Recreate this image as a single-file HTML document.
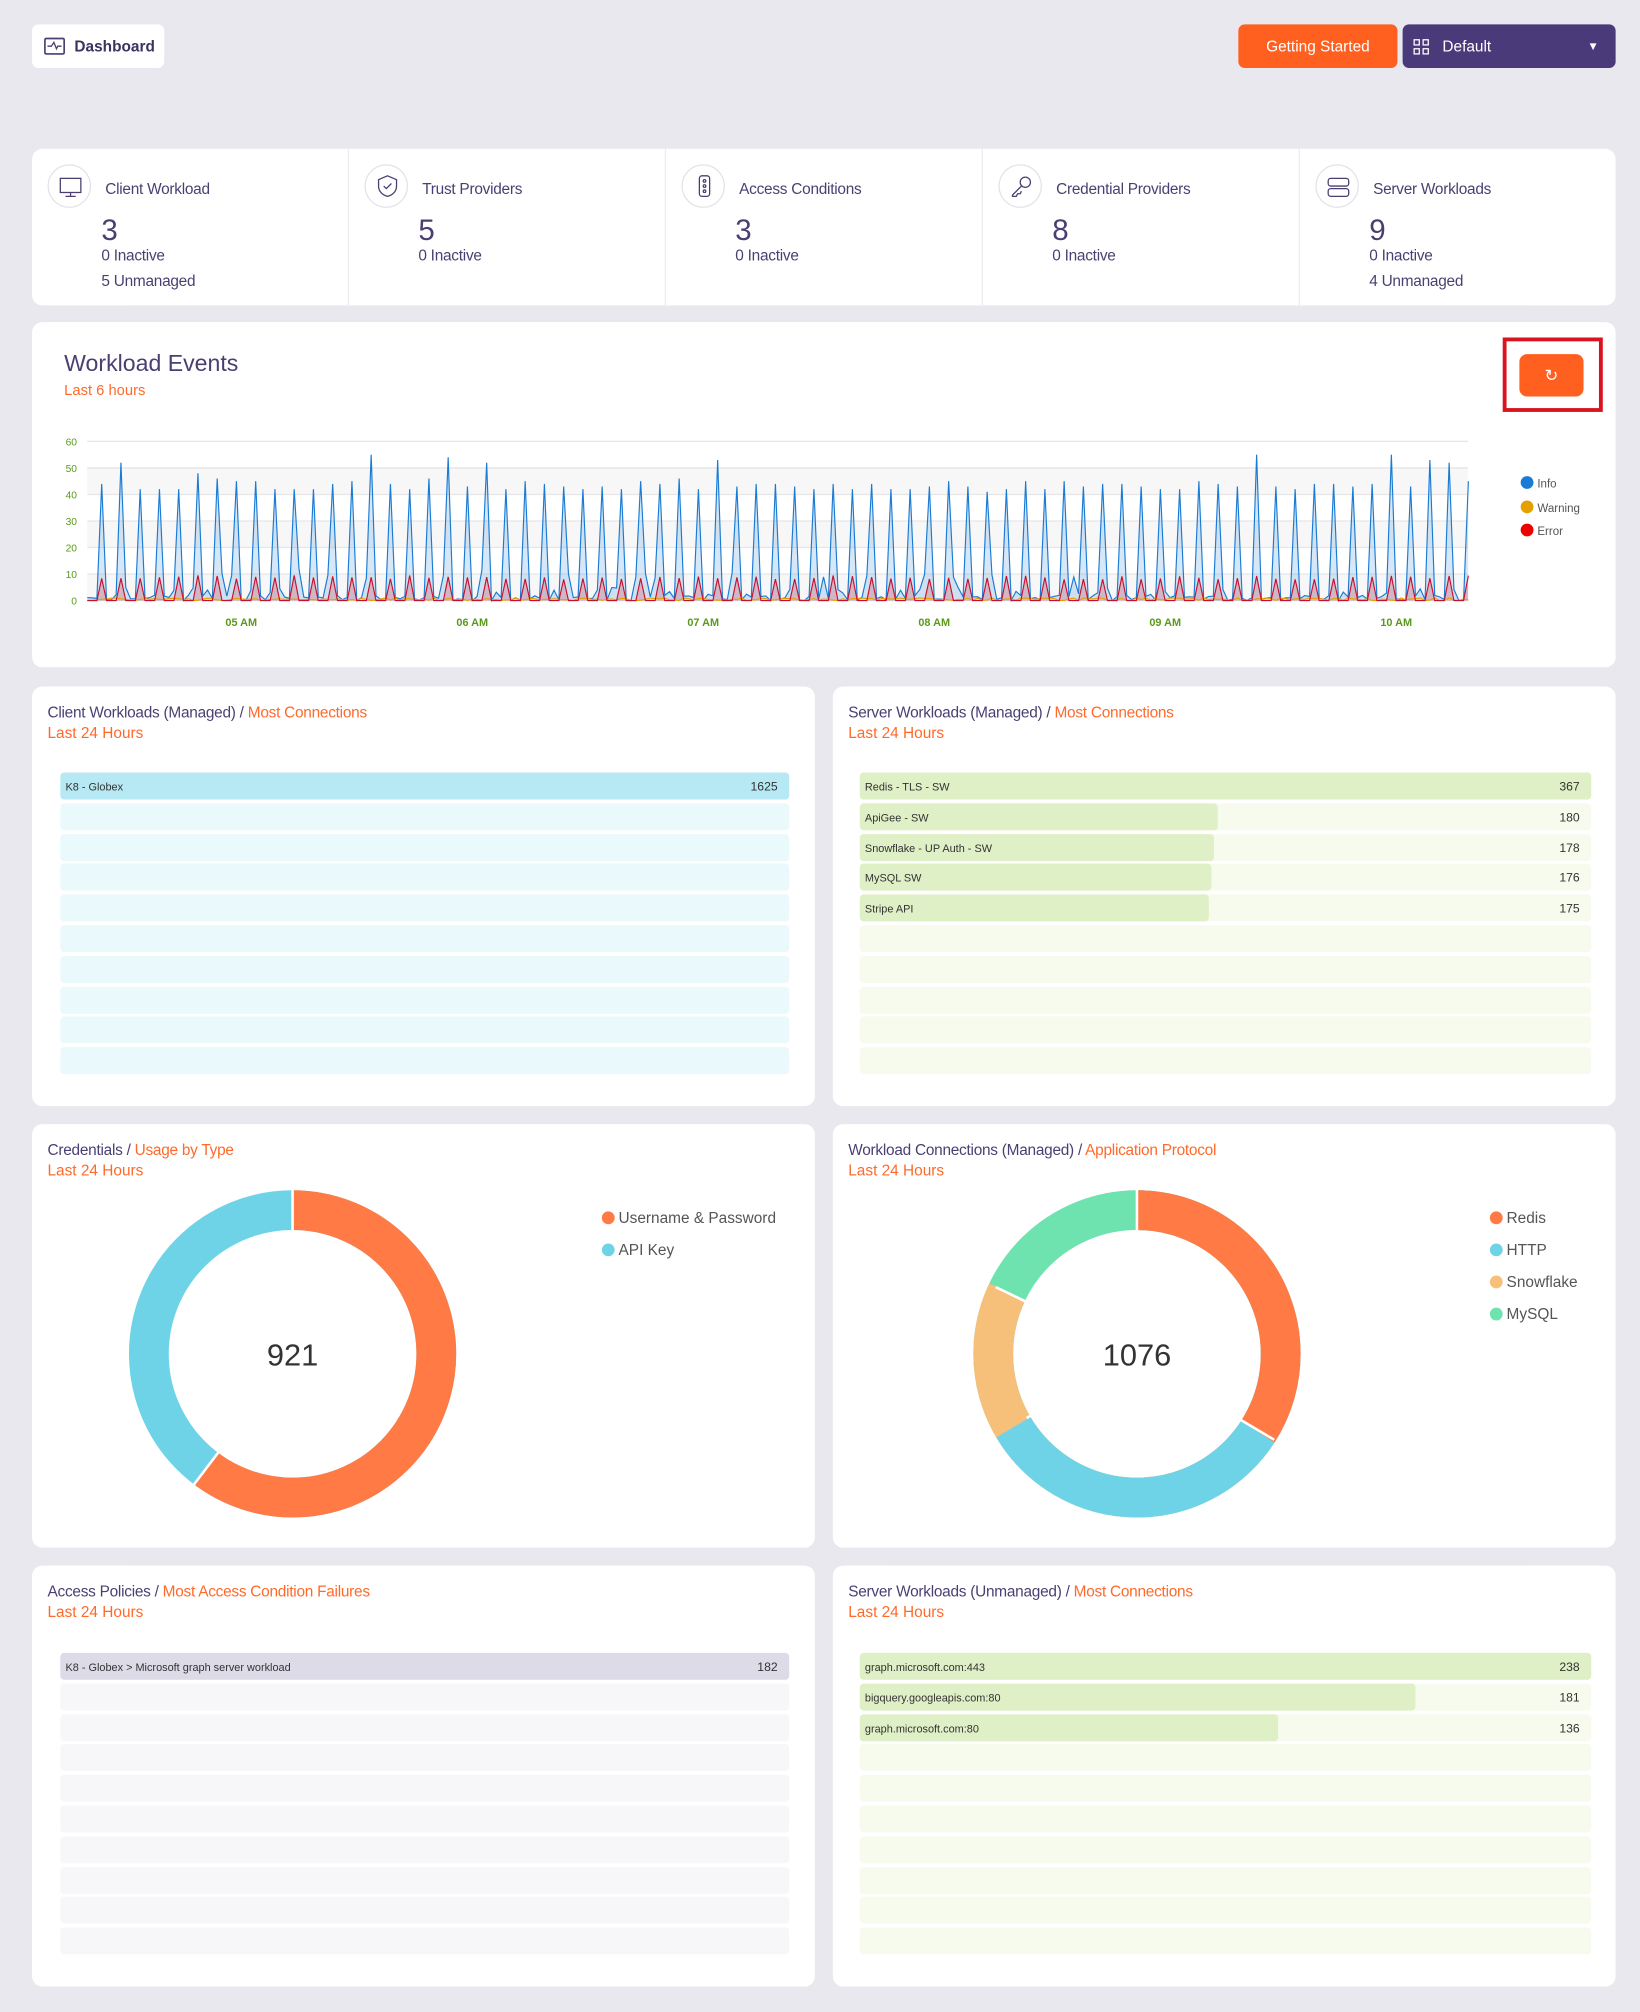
<!DOCTYPE html>
<html><head><meta charset="utf-8">
<style>
*{box-sizing:border-box;margin:0;padding:0}
html,body{width:1640px;height:2012px;overflow:hidden;background:#e9e8ee;font-family:"Liberation Sans",sans-serif}
#w{position:absolute;left:0;top:0;width:1278px;height:1568px;transform:scale(1.28326);transform-origin:0 0}
.a{position:absolute}
.card{position:absolute;background:#fff;border-radius:8px}
.pt{color:#4b3f72;font-size:12px;letter-spacing:-0.2px}
.or{color:#ff6a2b}
.st{position:absolute;top:0;height:122px;width:247px;border-right:1px solid #ececf0}
.ic{position:absolute;left:12px;top:12px;width:34px;height:34px;border:1.5px solid #e3e3e8;border-radius:50%}
.st .t{position:absolute;left:57px;top:24px;font-size:12px;color:#4b3f72;letter-spacing:-0.2px}
.st .n{position:absolute;left:54px;top:50px;font-size:23px;color:#4b3f72}
.st .s{position:absolute;left:54px;font-size:12px;color:#4b3f72;letter-spacing:-0.2px}
.row{position:absolute;height:21px;border-radius:3px;font-size:8.5px;color:#333}
.row span{position:absolute;top:6px}
.leg{position:absolute;font-size:12px;color:#555}
.leg i{display:inline-block;width:10px;height:10px;border-radius:50%;margin-right:3px;vertical-align:-1px}
</style></head><body><div id="w">
<div class="card" style="left:25px;top:19px;width:103px;height:34px;border-radius:5px"><svg class="a" style="left:9px;top:10px" width="17" height="14"><rect x="1" y="1" width="15" height="12" fill="none" stroke="#4b3f72" stroke-width="1.3" rx="1"/><path d="M3 7h3l2-3 2 5 1-2h3" fill="none" stroke="#4b3f72" stroke-width="1"/></svg><span class="a" style="left:33px;top:10px;font-size:12px;color:#3c3260;font-weight:bold">Dashboard</span></div>
<div class="a" style="left:965px;top:19px;width:124px;height:34px;background:#ff5f1f;border-radius:5px;color:#fff;font-size:12px;text-align:center;line-height:34px">Getting Started</div>
<div class="a" style="left:1093px;top:19px;width:166px;height:34px;background:#4b3a7a;border-radius:5px;color:#fff;font-size:12px;line-height:34px"><svg class="a" style="left:8px;top:11px" width="13" height="13" fill="none" stroke="#fff"><rect x="1" y="1" width="4" height="4"/><rect x="8" y="1" width="4" height="4"/><rect x="1" y="8" width="4" height="4"/><rect x="8" y="8" width="4" height="4"/></svg><span class="a" style="left:31px">Default</span><span class="a" style="left:144px;font-size:9px">▼</span></div>

<div class="card" style="left:25px;top:116px;width:1234px;height:122px;overflow:hidden">
<div class="st" style="left:0"><div class="ic"></div><svg class="a" style="left:21px;top:21px" width="18" height="18" fill="none" stroke="#4b3f72"><rect x="1" y="2" width="16" height="11"/><path d="M9 13v3M5 16h8"/></svg><div class="t">Client Workload</div><div class="n">3</div><div class="s" style="top:76px">0 Inactive</div><div class="s" style="top:96px">5 Unmanaged</div></div>
<div class="st" style="left:247px"><div class="ic"></div><svg class="a" style="left:21px;top:20px" width="18" height="18" fill="none" stroke="#4b3f72"><path d="M9 1l7 3v5c0 4-3 7-7 8-4-1-7-4-7-8V4z"/><path d="M6 9l2 2 4-4"/></svg><div class="t">Trust Providers</div><div class="n">5</div><div class="s" style="top:76px">0 Inactive</div></div>
<div class="st" style="left:494px"><div class="ic"></div><svg class="a" style="left:22px;top:20px" width="16" height="18" fill="none" stroke="#4b3f72"><rect x="4" y="1" width="8" height="16" rx="2"/><circle cx="8" cy="5" r="1"/><circle cx="8" cy="9" r="1"/><circle cx="8" cy="13" r="1"/></svg><div class="t">Access Conditions</div><div class="n">3</div><div class="s" style="top:76px">0 Inactive</div></div>
<div class="st" style="left:741px"><div class="ic"></div><svg class="a" style="left:21px;top:20px" width="18" height="18" fill="none" stroke="#4b3f72"><circle cx="12" cy="6" r="4"/><path d="M9 9l-7 7v1h3l1-2h2l1-2"/></svg><div class="t">Credential Providers</div><div class="n">8</div><div class="s" style="top:76px">0 Inactive</div></div>
<div class="st" style="left:988px;border:0"><div class="ic"></div><svg class="a" style="left:21px;top:21px" width="18" height="18" fill="none" stroke="#4b3f72"><rect x="1" y="2" width="16" height="6" rx="2"/><rect x="1" y="10" width="16" height="6" rx="2"/></svg><div class="t">Server Workloads</div><div class="n">9</div><div class="s" style="top:76px">0 Inactive</div><div class="s" style="top:96px">4 Unmanaged</div></div>
</div>

<div class="card" style="left:25px;top:251px;width:1234px;height:269px">
<div class="a" style="left:25px;top:22px;font-size:18px;color:#4b3f72">Workload Events</div>
<div class="a or" style="left:25px;top:48px;font-size:11.5px">Last 6 hours</div>
<div class="a" style="left:1146px;top:12px;width:78px;height:58px;border:3px solid #d9141c"></div>
<div class="a" style="left:1159px;top:25px;width:50px;height:33px;background:#ff5f1f;border-radius:6px;color:#fff;text-align:center;line-height:33px;font-size:13px">↻</div>
<div class="leg" style="left:1160px;top:120px;font-size:9px"><i style="background:#1a7bd4"></i>Info</div>
<div class="leg" style="left:1160px;top:139px;font-size:9px"><i style="background:#e5a000"></i>Warning</div>
<div class="leg" style="left:1160px;top:157px;font-size:9px"><i style="background:#e00"></i>Error</div>
</div>
<svg id="ch" class="a" style="left:0;top:330px" width="1160" height="170"></svg>

<div class="card" style="left:25px;top:535px;width:610px;height:327px"><div class="a pt" style="left:12px;top:13px">Client Workloads (Managed) / <span class="or">Most Connections</span></div><div class="a or" style="left:12px;top:29px;font-size:12px">Last 24 Hours</div></div>
<div class="card" style="left:649px;top:535px;width:610px;height:327px"><div class="a pt" style="left:12px;top:13px">Server Workloads (Managed) / <span class="or">Most Connections</span></div><div class="a or" style="left:12px;top:29px;font-size:12px">Last 24 Hours</div></div>
<div class="card" style="left:25px;top:876px;width:610px;height:330px"><div class="a pt" style="left:12px;top:13px">Credentials / <span class="or">Usage by Type</span></div><div class="a or" style="left:12px;top:29px;font-size:12px">Last 24 Hours</div>
<div class="leg" style="left:444px;top:66px"><i style="background:#ff7a45"></i>Username &amp; Password</div><div class="leg" style="left:444px;top:91px"><i style="background:#6fd3e8"></i>API Key</div></div>
<div class="card" style="left:649px;top:876px;width:610px;height:330px"><div class="a pt" style="left:12px;top:13px">Workload Connections (Managed) / <span class="or">Application Protocol</span></div><div class="a or" style="left:12px;top:29px;font-size:12px">Last 24 Hours</div>
<div class="leg" style="left:512px;top:66px"><i style="background:#ff7a45"></i>Redis</div><div class="leg" style="left:512px;top:91px"><i style="background:#6fd3e8"></i>HTTP</div><div class="leg" style="left:512px;top:116px"><i style="background:#f7c07a"></i>Snowflake</div><div class="leg" style="left:512px;top:141px"><i style="background:#6ee3b0"></i>MySQL</div></div>
<div class="card" style="left:25px;top:1220px;width:610px;height:328px"><div class="a pt" style="left:12px;top:13px">Access Policies / <span class="or">Most Access Condition Failures</span></div><div class="a or" style="left:12px;top:29px;font-size:12px">Last 24 Hours</div></div>
<div class="card" style="left:649px;top:1220px;width:610px;height:328px"><div class="a pt" style="left:12px;top:13px">Server Workloads (Unmanaged) / <span class="or">Most Connections</span></div><div class="a or" style="left:12px;top:29px;font-size:12px">Last 24 Hours</div></div>

<svg class="a" style="left:0;top:0" width="1278" height="1568">
<g transform="rotate(-90 228 1055)"><circle cx="228" cy="1055" r="112" fill="none" stroke="#6fd3e8" stroke-width="31"/><circle cx="228" cy="1055" r="112" fill="none" stroke="#ff7a45" stroke-width="31" stroke-dasharray="424.4 1000"/></g>
<text x="228" y="1064" font-size="24" fill="#333" text-anchor="middle" font-family="Liberation Sans">921</text>
<g transform="rotate(-90 886 1055)" fill="none" stroke-width="31">
<circle cx="886" cy="1055" r="112" stroke="#6ee3b0"/>
<circle cx="886" cy="1055" r="112" stroke="#f7c07a" stroke-dasharray="0 0 577.5 1000"/>
<circle cx="886" cy="1055" r="112" stroke="#6fd3e8" stroke-dasharray="467.6 1000"/>
<circle cx="886" cy="1055" r="112" stroke="#ff7a45" stroke-dasharray="240 1000"/></g>
<g stroke="#fff" stroke-width="2"><line x1="228" y1="927" x2="228" y2="959"/><line x1="151" y1="1157" x2="170" y2="1132"/><line x1="886" y1="927" x2="886" y2="959"/><line x1="993" y1="1122" x2="966" y2="1106"/><line x1="800" y1="1105" x2="828" y2="1089"/><line x1="776" y1="1003" x2="805" y2="1017"/></g>
<text x="886" y="1064" font-size="24" fill="#333" text-anchor="middle" font-family="Liberation Sans">1076</text>
</svg>
<div id="rows"></div>
</div>
<script>
var R=document.getElementById('rows'),h='';
function rows(x,y,w,n,bg,data,fill){for(var i=0;i<n;i++){var yy=y+i*23.8;h+='<div class="row" style="left:'+x+'px;top:'+yy+'px;width:'+w+'px;background:'+bg+'"></div>';var d=data[i];if(d){h+='<div class="row" style="left:'+x+'px;top:'+yy+'px;width:'+(w*d[2])+'px;background:'+fill+'"><span style="left:4px">'+d[0]+'</span></div><div class="row" style="left:'+x+'px;top:'+yy+'px;width:'+w+'px"><span style="right:9px;font-size:9.5px">'+d[1]+'</span></div>';}}}
rows(47,602,568,10,'#eaf9fc',[['K8 - Globex',1625,1]],'#b7e9f4');
rows(670,602,570,10,'#f6fbee',[['Redis - TLS - SW',367,1],['ApiGee - SW',180,.49],['Snowflake - UP Auth - SW',178,.485],['MySQL SW',176,.48],['Stripe API',175,.477]],'#dfefc6');
rows(47,1288,568,10,'#f7f7f9',[['K8 - Globex &gt; Microsoft graph server workload',182,1]],'#dddbe8');
rows(670,1288,570,10,'#f6fbee',[['graph.microsoft.com:443',238,1],['bigquery.googleapis.com:80',181,.76],['graph.microsoft.com:80',136,.572]],'#dfefc6');
R.innerHTML=h;
var s='',X0=68,X1=1144,Y0=138,k=2.067;
[0,10,20,30,40,50,60].forEach(function(t){var y=Y0-t*k;if(t%20==0&&t<60)s+='<rect x="'+X0+'" y="'+(y-20.67)+'" width="'+(X1-X0)+'" height="20.67" fill="#f7f7f8"/>';s+='<line x1="'+X0+'" x2="'+X1+'" y1="'+y+'" y2="'+y+'" stroke="#e6e6e6"/><text x="60" y="'+(y+3)+'" font-size="8" fill="#5a9a1a" text-anchor="end" font-family="Liberation Sans">'+t+'</text>';});
['05 AM','06 AM','07 AM','08 AM','09 AM','10 AM'].forEach(function(l,i){s+='<text x="'+(188+i*180)+'" y="158" font-size="8.5" font-weight="bold" fill="#5a9a1a" text-anchor="middle" font-family="Liberation Sans">'+l+'</text>';});
var seed=7;function r(){seed=(seed*9301+49297)%233280;return seed/233280;}
var pk=[44,52,42,42,42,48,46,45,45,42,42,42,44,45,55,44,42,46,54,43,52,42,45,44,43,42,43,42,45,44,46,42,53,43,44,44,43,42,44,42,44,42,42,43,45,43,41,42,45,42,45,43,44,44,43,42,42,45,44,43,55,43,42,44,44,43,44,55,43,53,52,45];
var pi=[],pe=[],pw=[],n=Math.round((X1-X0)/3.75);
for(var i=0;i<=n;i++){var x=X0+i*3.75,v=r()<0.3?r()*5:r()*2,e=0,w=r()*1;var j=(i-3)%4;var sp=Math.floor((i-3)/4);
if(j==0&&sp>=0&&sp<pk.length){v=pk[sp];e=8+r()*1.5;}else if(r()<0.08)v=8+r()*4;
pi.push(x+','+(Y0-v*k));pe.push(x+','+(Y0-e*k));pw.push(x+','+(Y0-w*k));}
s+='<polygon points="'+X0+','+Y0+' '+pi.join(' ')+' '+X1+','+Y0+'" fill="rgba(26,123,212,0.18)"/>';
s+='<polyline points="'+pi.join(' ')+'" fill="none" stroke="#1a7bd4" stroke-width="0.9"/>';
s+='<polygon points="'+X0+','+Y0+' '+pe.join(' ')+' '+X1+','+Y0+'" fill="rgba(220,0,0,0.18)"/>';
s+='<polyline points="'+pw.join(' ')+'" fill="none" stroke="#e5a000" stroke-width="0.9"/>';
s+='<polyline points="'+pe.join(' ')+'" fill="none" stroke="#c8102e" stroke-width="0.9"/>';
document.getElementById('ch').innerHTML=s;
</script>
</body></html>
